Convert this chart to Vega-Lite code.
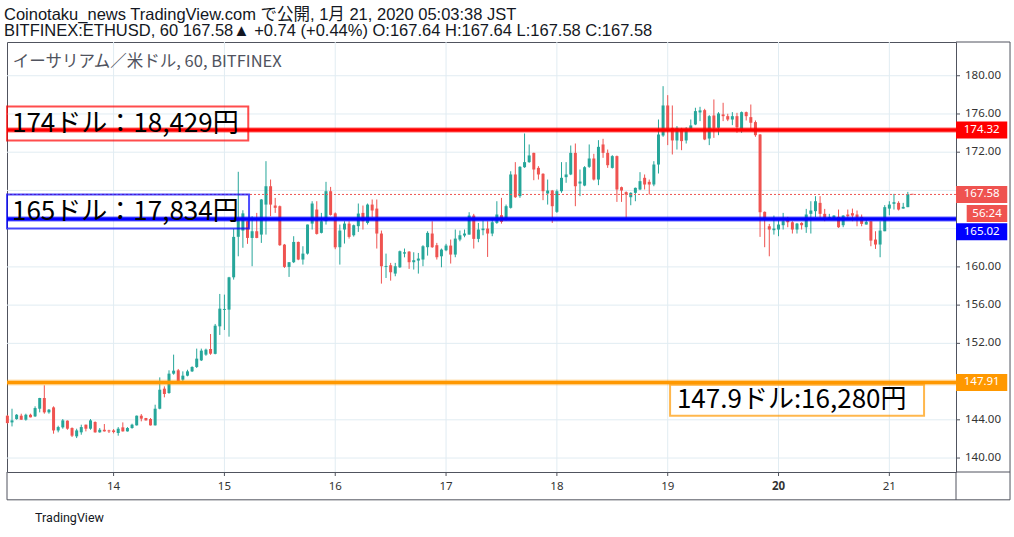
{
  "$schema": "https://vega.github.io/schema/vega-lite/v6.json",
  "description": "BITFINEX ETHUSD hourly candles, Jan 13-21 2020, with three support/resistance levels.",
  "width": 949,
  "height": 430,
  "autosize": {"type": "none"},
  "padding": {"left": 7, "top": 42, "right": 58, "bottom": 65},
  "background": "#ffffff",
  "config": {
    "view": {"stroke": "#50535e", "strokeWidth": 1}
  },
  "title": {
    "text": "Coinotaku_news TradingView.com で公開, 1月 21, 2020 05:03:38 JST",
    "subtitle": "BITFINEX:ETHUSD, 60 167.58▲ +0.74 (+0.44%) O:167.64 H:167.64 L:167.58 C:167.58",
    "anchor": "start",
    "offset": 2,
    "font": "Liberation Sans, Noto Sans CJK JP",
    "fontSize": 16.5,
    "fontWeight": "normal",
    "color": "#131722",
    "subtitleFont": "Liberation Sans, Noto Sans CJK JP",
    "subtitleFontSize": 16.5,
    "subtitleColor": "#131722",
    "subtitlePadding": 0
  },
  "datasets": {
    "candles": [
      {"t": "2020-01-13T01:00Z", "o": 144.43, "h": 144.5, "l": 143.6, "c": 143.66},
      {"t": "2020-01-13T02:00Z", "o": 143.73, "h": 145.16, "l": 143.31, "c": 143.94},
      {"t": "2020-01-13T03:00Z", "o": 144.08, "h": 144.6, "l": 144.01, "c": 144.53},
      {"t": "2020-01-13T04:00Z", "o": 144.43, "h": 144.64, "l": 144.0, "c": 144.01},
      {"t": "2020-01-13T05:00Z", "o": 144.01, "h": 144.64, "l": 143.91, "c": 144.53},
      {"t": "2020-01-13T06:00Z", "o": 144.53, "h": 144.64, "l": 144.25, "c": 144.26},
      {"t": "2020-01-13T07:00Z", "o": 144.36, "h": 145.41, "l": 144.29, "c": 145.23},
      {"t": "2020-01-13T08:00Z", "o": 145.16, "h": 146.3, "l": 144.78, "c": 146.28},
      {"t": "2020-01-13T09:00Z", "o": 146.28, "h": 147.61, "l": 144.64, "c": 144.78},
      {"t": "2020-01-13T10:00Z", "o": 144.78, "h": 145.13, "l": 144.64, "c": 145.06},
      {"t": "2020-01-13T11:00Z", "o": 145.3, "h": 145.41, "l": 142.55, "c": 142.89},
      {"t": "2020-01-13T12:00Z", "o": 142.89, "h": 143.38, "l": 142.69, "c": 143.24},
      {"t": "2020-01-13T13:00Z", "o": 143.21, "h": 144.08, "l": 143.07, "c": 143.94},
      {"t": "2020-01-13T14:00Z", "o": 143.91, "h": 143.94, "l": 142.96, "c": 143.07},
      {"t": "2020-01-13T15:00Z", "o": 143.14, "h": 143.21, "l": 142.2, "c": 142.34},
      {"t": "2020-01-13T16:00Z", "o": 142.27, "h": 143.07, "l": 142.09, "c": 142.89},
      {"t": "2020-01-13T17:00Z", "o": 142.69, "h": 143.49, "l": 142.44, "c": 143.24},
      {"t": "2020-01-13T18:00Z", "o": 143.49, "h": 143.5, "l": 142.79, "c": 143.07},
      {"t": "2020-01-13T19:00Z", "o": 143.07, "h": 144.08, "l": 142.96, "c": 143.94},
      {"t": "2020-01-13T20:00Z", "o": 143.77, "h": 143.84, "l": 142.65, "c": 142.69},
      {"t": "2020-01-13T21:00Z", "o": 142.69, "h": 143.14, "l": 142.65, "c": 142.96},
      {"t": "2020-01-13T22:00Z", "o": 142.96, "h": 143.56, "l": 142.77, "c": 142.79},
      {"t": "2020-01-13T23:00Z", "o": 142.89, "h": 142.96, "l": 142.62, "c": 142.79},
      {"t": "2020-01-14T00:00Z", "o": 142.89, "h": 143.03, "l": 142.58, "c": 142.72},
      {"t": "2020-01-14T01:00Z", "o": 142.62, "h": 143.24, "l": 142.34, "c": 143.07},
      {"t": "2020-01-14T02:00Z", "o": 143.21, "h": 143.73, "l": 142.77, "c": 142.79},
      {"t": "2020-01-14T03:00Z", "o": 142.79, "h": 143.24, "l": 142.77, "c": 143.14},
      {"t": "2020-01-14T04:00Z", "o": 143.14, "h": 143.59, "l": 143.07, "c": 143.49},
      {"t": "2020-01-14T05:00Z", "o": 143.42, "h": 144.45, "l": 143.4, "c": 144.43},
      {"t": "2020-01-14T06:00Z", "o": 144.43, "h": 144.6, "l": 143.84, "c": 144.12},
      {"t": "2020-01-14T07:00Z", "o": 144.19, "h": 144.2, "l": 143.92, "c": 143.94},
      {"t": "2020-01-14T08:00Z", "o": 144.08, "h": 144.19, "l": 143.4, "c": 143.42},
      {"t": "2020-01-14T09:00Z", "o": 143.42, "h": 145.58, "l": 143.4, "c": 145.16},
      {"t": "2020-01-14T10:00Z", "o": 145.16, "h": 148.44, "l": 145.1, "c": 147.15},
      {"t": "2020-01-14T11:00Z", "o": 147.26, "h": 147.5, "l": 146.35, "c": 146.7},
      {"t": "2020-01-14T12:00Z", "o": 146.8, "h": 149.18, "l": 146.73, "c": 148.83},
      {"t": "2020-01-14T13:00Z", "o": 148.83, "h": 150.82, "l": 148.72, "c": 149.14},
      {"t": "2020-01-14T14:00Z", "o": 149.18, "h": 149.32, "l": 147.92, "c": 148.03},
      {"t": "2020-01-14T15:00Z", "o": 148.2, "h": 149.07, "l": 147.85, "c": 148.62},
      {"t": "2020-01-14T16:00Z", "o": 148.62, "h": 149.24, "l": 148.55, "c": 149.07},
      {"t": "2020-01-14T17:00Z", "o": 149.07, "h": 149.6, "l": 149.0, "c": 149.53},
      {"t": "2020-01-14T18:00Z", "o": 149.53, "h": 151.45, "l": 149.42, "c": 150.4},
      {"t": "2020-01-14T19:00Z", "o": 150.22, "h": 151.45, "l": 150.15, "c": 151.24},
      {"t": "2020-01-14T20:00Z", "o": 150.82, "h": 151.45, "l": 150.7, "c": 151.34},
      {"t": "2020-01-14T21:00Z", "o": 151.41, "h": 152.98, "l": 150.8, "c": 150.92},
      {"t": "2020-01-14T22:00Z", "o": 150.9, "h": 154.03, "l": 150.85, "c": 153.85},
      {"t": "2020-01-14T23:00Z", "o": 153.78, "h": 157.17, "l": 152.88, "c": 155.63},
      {"t": "2020-01-15T00:00Z", "o": 155.5, "h": 157.1, "l": 153.4, "c": 155.6},
      {"t": "2020-01-15T01:00Z", "o": 155.53, "h": 158.96, "l": 152.7, "c": 158.91},
      {"t": "2020-01-15T02:00Z", "o": 158.91, "h": 163.98, "l": 158.67, "c": 163.14},
      {"t": "2020-01-15T03:00Z", "o": 163.15, "h": 169.95, "l": 161.11, "c": 165.1},
      {"t": "2020-01-15T04:00Z", "o": 163.8, "h": 165.93, "l": 162.0, "c": 165.6},
      {"t": "2020-01-15T05:00Z", "o": 164.78, "h": 164.85, "l": 162.41, "c": 163.03},
      {"t": "2020-01-15T06:00Z", "o": 163.03, "h": 165.3, "l": 160.07, "c": 163.73},
      {"t": "2020-01-15T07:00Z", "o": 163.73, "h": 165.65, "l": 163.0, "c": 163.03},
      {"t": "2020-01-15T08:00Z", "o": 163.38, "h": 167.1, "l": 162.51, "c": 167.05},
      {"t": "2020-01-15T09:00Z", "o": 166.52, "h": 171.06, "l": 163.38, "c": 168.44},
      {"t": "2020-01-15T10:00Z", "o": 168.44, "h": 169.14, "l": 165.3, "c": 166.52},
      {"t": "2020-01-15T11:00Z", "o": 166.42, "h": 167.22, "l": 165.65, "c": 166.18},
      {"t": "2020-01-15T12:00Z", "o": 166.35, "h": 166.42, "l": 162.2, "c": 162.27},
      {"t": "2020-01-15T13:00Z", "o": 162.33, "h": 162.4, "l": 159.89, "c": 160.0},
      {"t": "2020-01-15T14:00Z", "o": 160.0, "h": 160.49, "l": 158.95, "c": 160.49},
      {"t": "2020-01-15T15:00Z", "o": 160.49, "h": 163.21, "l": 160.4, "c": 162.61},
      {"t": "2020-01-15T16:00Z", "o": 162.61, "h": 162.65, "l": 160.7, "c": 160.77},
      {"t": "2020-01-15T17:00Z", "o": 160.77, "h": 162.16, "l": 160.24, "c": 161.39},
      {"t": "2020-01-15T18:00Z", "o": 161.39, "h": 164.43, "l": 161.29, "c": 164.43},
      {"t": "2020-01-15T19:00Z", "o": 164.53, "h": 166.87, "l": 163.91, "c": 166.63},
      {"t": "2020-01-15T20:00Z", "o": 166.0, "h": 166.87, "l": 163.38, "c": 163.45},
      {"t": "2020-01-15T21:00Z", "o": 163.56, "h": 165.65, "l": 163.5, "c": 164.78},
      {"t": "2020-01-15T22:00Z", "o": 164.78, "h": 168.9, "l": 164.43, "c": 167.92},
      {"t": "2020-01-15T23:00Z", "o": 167.92, "h": 168.37, "l": 165.37, "c": 165.44},
      {"t": "2020-01-16T00:00Z", "o": 165.6, "h": 165.7, "l": 161.85, "c": 162.05},
      {"t": "2020-01-16T01:00Z", "o": 162.06, "h": 164.43, "l": 160.24, "c": 163.8},
      {"t": "2020-01-16T02:00Z", "o": 163.91, "h": 164.78, "l": 162.44, "c": 164.53},
      {"t": "2020-01-16T03:00Z", "o": 164.53, "h": 164.78, "l": 162.96, "c": 163.14},
      {"t": "2020-01-16T04:00Z", "o": 163.31, "h": 164.43, "l": 163.17, "c": 164.36},
      {"t": "2020-01-16T05:00Z", "o": 164.26, "h": 166.63, "l": 163.66, "c": 165.58},
      {"t": "2020-01-16T06:00Z", "o": 165.65, "h": 166.42, "l": 163.91, "c": 164.78},
      {"t": "2020-01-16T07:00Z", "o": 164.6, "h": 166.63, "l": 164.43, "c": 166.52},
      {"t": "2020-01-16T08:00Z", "o": 166.52, "h": 167.05, "l": 165.2, "c": 165.9},
      {"t": "2020-01-16T09:00Z", "o": 166.1, "h": 167.05, "l": 161.92, "c": 163.49},
      {"t": "2020-01-16T10:00Z", "o": 163.49, "h": 163.8, "l": 158.25, "c": 160.07},
      {"t": "2020-01-16T11:00Z", "o": 160.0, "h": 161.39, "l": 158.84, "c": 160.1},
      {"t": "2020-01-16T12:00Z", "o": 160.17, "h": 160.42, "l": 158.56, "c": 159.44},
      {"t": "2020-01-16T13:00Z", "o": 159.3, "h": 160.42, "l": 159.02, "c": 160.07},
      {"t": "2020-01-16T14:00Z", "o": 159.96, "h": 161.71, "l": 159.89, "c": 161.64},
      {"t": "2020-01-16T15:00Z", "o": 161.39, "h": 161.92, "l": 161.0, "c": 161.53},
      {"t": "2020-01-16T16:00Z", "o": 161.6, "h": 161.65, "l": 159.79, "c": 160.49},
      {"t": "2020-01-16T17:00Z", "o": 160.49, "h": 161.53, "l": 159.72, "c": 160.7},
      {"t": "2020-01-16T18:00Z", "o": 160.66, "h": 161.46, "l": 159.3, "c": 160.87},
      {"t": "2020-01-16T19:00Z", "o": 160.77, "h": 162.27, "l": 160.07, "c": 162.16},
      {"t": "2020-01-16T20:00Z", "o": 162.06, "h": 163.73, "l": 161.18, "c": 163.56},
      {"t": "2020-01-16T21:00Z", "o": 163.49, "h": 164.78, "l": 161.99, "c": 162.06},
      {"t": "2020-01-16T22:00Z", "o": 162.27, "h": 162.51, "l": 160.77, "c": 161.01},
      {"t": "2020-01-16T23:00Z", "o": 161.11, "h": 161.92, "l": 159.96, "c": 161.81},
      {"t": "2020-01-17T00:00Z", "o": 161.74, "h": 162.41, "l": 161.64, "c": 162.23},
      {"t": "2020-01-17T01:00Z", "o": 162.23, "h": 162.86, "l": 160.35, "c": 161.29},
      {"t": "2020-01-17T02:00Z", "o": 161.29, "h": 163.91, "l": 161.01, "c": 162.96},
      {"t": "2020-01-17T03:00Z", "o": 162.86, "h": 163.8, "l": 162.68, "c": 163.31},
      {"t": "2020-01-17T04:00Z", "o": 163.28, "h": 163.91, "l": 163.1, "c": 163.49},
      {"t": "2020-01-17T05:00Z", "o": 163.38, "h": 165.72, "l": 163.38, "c": 165.37},
      {"t": "2020-01-17T06:00Z", "o": 165.37, "h": 165.55, "l": 161.92, "c": 162.93},
      {"t": "2020-01-17T07:00Z", "o": 162.93, "h": 164.6, "l": 162.58, "c": 163.91},
      {"t": "2020-01-17T08:00Z", "o": 163.84, "h": 164.85, "l": 163.31, "c": 164.01},
      {"t": "2020-01-17T09:00Z", "o": 164.01, "h": 164.78, "l": 161.04, "c": 163.49},
      {"t": "2020-01-17T10:00Z", "o": 163.49, "h": 165.13, "l": 163.21, "c": 164.67},
      {"t": "2020-01-17T11:00Z", "o": 164.6, "h": 166.87, "l": 164.5, "c": 165.48},
      {"t": "2020-01-17T12:00Z", "o": 165.41, "h": 167.22, "l": 164.53, "c": 164.71},
      {"t": "2020-01-17T13:00Z", "o": 164.95, "h": 166.52, "l": 164.85, "c": 166.35},
      {"t": "2020-01-17T14:00Z", "o": 166.18, "h": 170.01, "l": 166.1, "c": 169.67},
      {"t": "2020-01-17T15:00Z", "o": 169.67, "h": 170.96, "l": 167.22, "c": 167.29},
      {"t": "2020-01-17T16:00Z", "o": 167.4, "h": 170.54, "l": 167.22, "c": 170.47},
      {"t": "2020-01-17T17:00Z", "o": 170.43, "h": 173.96, "l": 170.36, "c": 170.96},
      {"t": "2020-01-17T18:00Z", "o": 170.96, "h": 172.81, "l": 170.89, "c": 171.66},
      {"t": "2020-01-17T19:00Z", "o": 171.93, "h": 171.95, "l": 169.07, "c": 170.19},
      {"t": "2020-01-17T20:00Z", "o": 170.36, "h": 170.54, "l": 169.14, "c": 169.67},
      {"t": "2020-01-17T21:00Z", "o": 169.74, "h": 169.8, "l": 166.98, "c": 167.92},
      {"t": "2020-01-17T22:00Z", "o": 167.68, "h": 169.14, "l": 166.52, "c": 167.99},
      {"t": "2020-01-17T23:00Z", "o": 167.99, "h": 168.05, "l": 164.6, "c": 166.35},
      {"t": "2020-01-18T00:00Z", "o": 165.76, "h": 168.1, "l": 165.65, "c": 167.92},
      {"t": "2020-01-18T01:00Z", "o": 167.92, "h": 170.96, "l": 167.75, "c": 169.32},
      {"t": "2020-01-18T02:00Z", "o": 169.39, "h": 170.96, "l": 168.8, "c": 169.67},
      {"t": "2020-01-18T03:00Z", "o": 169.67, "h": 172.7, "l": 169.6, "c": 171.93},
      {"t": "2020-01-18T04:00Z", "o": 171.93, "h": 172.91, "l": 166.35, "c": 168.44},
      {"t": "2020-01-18T05:00Z", "o": 168.72, "h": 170.19, "l": 167.4, "c": 168.93},
      {"t": "2020-01-18T06:00Z", "o": 168.51, "h": 170.54, "l": 168.44, "c": 170.43},
      {"t": "2020-01-18T07:00Z", "o": 170.47, "h": 172.81, "l": 170.36, "c": 171.34},
      {"t": "2020-01-18T08:00Z", "o": 171.34, "h": 171.83, "l": 169.04, "c": 169.14},
      {"t": "2020-01-18T09:00Z", "o": 169.14, "h": 173.26, "l": 168.55, "c": 172.56},
      {"t": "2020-01-18T10:00Z", "o": 172.81, "h": 173.4, "l": 171.41, "c": 171.93},
      {"t": "2020-01-18T11:00Z", "o": 171.93, "h": 172.28, "l": 170.36, "c": 170.64},
      {"t": "2020-01-18T12:00Z", "o": 170.36, "h": 171.69, "l": 170.29, "c": 171.59},
      {"t": "2020-01-18T13:00Z", "o": 171.59, "h": 171.65, "l": 166.8, "c": 168.1},
      {"t": "2020-01-18T14:00Z", "o": 168.34, "h": 168.4, "l": 166.8, "c": 167.99},
      {"t": "2020-01-18T15:00Z", "o": 167.82, "h": 167.9, "l": 165.13, "c": 167.57},
      {"t": "2020-01-18T16:00Z", "o": 167.29, "h": 167.8, "l": 166.45, "c": 167.75},
      {"t": "2020-01-18T17:00Z", "o": 167.75, "h": 168.3, "l": 166.87, "c": 168.27},
      {"t": "2020-01-18T18:00Z", "o": 168.1, "h": 169.91, "l": 168.03, "c": 168.97},
      {"t": "2020-01-18T19:00Z", "o": 169.32, "h": 169.67, "l": 168.1, "c": 168.62},
      {"t": "2020-01-18T20:00Z", "o": 168.9, "h": 169.14, "l": 167.57, "c": 168.62},
      {"t": "2020-01-18T21:00Z", "o": 168.62, "h": 171.06, "l": 168.44, "c": 170.71},
      {"t": "2020-01-18T22:00Z", "o": 170.71, "h": 175.42, "l": 169.77, "c": 173.85},
      {"t": "2020-01-18T23:00Z", "o": 173.75, "h": 178.91, "l": 173.61, "c": 176.89},
      {"t": "2020-01-19T00:00Z", "o": 176.89, "h": 177.97, "l": 172.74, "c": 174.45},
      {"t": "2020-01-19T01:00Z", "o": 174.55, "h": 176.89, "l": 171.76, "c": 173.23},
      {"t": "2020-01-19T02:00Z", "o": 173.23, "h": 174.73, "l": 172.28, "c": 174.55},
      {"t": "2020-01-19T03:00Z", "o": 174.45, "h": 174.55, "l": 172.21, "c": 173.16},
      {"t": "2020-01-19T04:00Z", "o": 173.23, "h": 174.62, "l": 172.91, "c": 174.45},
      {"t": "2020-01-19T05:00Z", "o": 174.31, "h": 175.42, "l": 174.2, "c": 174.8},
      {"t": "2020-01-19T06:00Z", "o": 174.9, "h": 176.65, "l": 174.83, "c": 176.3},
      {"t": "2020-01-19T07:00Z", "o": 176.16, "h": 176.75, "l": 175.25, "c": 176.37},
      {"t": "2020-01-19T08:00Z", "o": 176.4, "h": 176.54, "l": 173.26, "c": 173.33},
      {"t": "2020-01-19T09:00Z", "o": 173.43, "h": 175.88, "l": 172.74, "c": 175.77},
      {"t": "2020-01-19T10:00Z", "o": 175.84, "h": 177.52, "l": 173.5, "c": 174.55},
      {"t": "2020-01-19T11:00Z", "o": 174.55, "h": 176.19, "l": 173.78, "c": 176.05},
      {"t": "2020-01-19T12:00Z", "o": 175.95, "h": 177.17, "l": 175.25, "c": 175.77},
      {"t": "2020-01-19T13:00Z", "o": 175.77, "h": 176.02, "l": 175.25, "c": 175.42},
      {"t": "2020-01-19T14:00Z", "o": 175.42, "h": 176.19, "l": 174.83, "c": 175.77},
      {"t": "2020-01-19T15:00Z", "o": 175.77, "h": 176.12, "l": 174.03, "c": 174.62},
      {"t": "2020-01-19T16:00Z", "o": 174.27, "h": 176.26, "l": 174.03, "c": 176.19},
      {"t": "2020-01-19T17:00Z", "o": 176.19, "h": 176.25, "l": 175.32, "c": 175.77},
      {"t": "2020-01-19T18:00Z", "o": 175.67, "h": 176.99, "l": 174.38, "c": 175.08},
      {"t": "2020-01-19T19:00Z", "o": 175.15, "h": 175.32, "l": 173.61, "c": 173.78},
      {"t": "2020-01-19T20:00Z", "o": 173.85, "h": 173.9, "l": 163.14, "c": 165.72},
      {"t": "2020-01-19T21:00Z", "o": 165.76, "h": 165.8, "l": 162.06, "c": 164.95},
      {"t": "2020-01-19T22:00Z", "o": 164.25, "h": 164.5, "l": 161.11, "c": 163.91},
      {"t": "2020-01-19T23:00Z", "o": 163.84, "h": 165.37, "l": 163.38, "c": 164.01},
      {"t": "2020-01-20T00:00Z", "o": 163.91, "h": 164.88, "l": 163.21, "c": 164.43},
      {"t": "2020-01-20T01:00Z", "o": 164.36, "h": 165.65, "l": 163.91, "c": 164.78},
      {"t": "2020-01-20T02:00Z", "o": 164.95, "h": 165.23, "l": 164.15, "c": 164.67},
      {"t": "2020-01-20T03:00Z", "o": 164.67, "h": 164.78, "l": 163.49, "c": 163.91},
      {"t": "2020-01-20T04:00Z", "o": 163.91, "h": 164.6, "l": 163.49, "c": 164.53},
      {"t": "2020-01-20T05:00Z", "o": 164.6, "h": 164.67, "l": 163.91, "c": 164.36},
      {"t": "2020-01-20T06:00Z", "o": 164.15, "h": 166.07, "l": 163.56, "c": 165.48},
      {"t": "2020-01-20T07:00Z", "o": 165.55, "h": 166.87, "l": 163.49, "c": 165.9},
      {"t": "2020-01-20T08:00Z", "o": 165.83, "h": 167.4, "l": 165.2, "c": 166.87},
      {"t": "2020-01-20T09:00Z", "o": 166.7, "h": 167.4, "l": 165.13, "c": 165.55},
      {"t": "2020-01-20T10:00Z", "o": 165.55, "h": 166.07, "l": 164.78, "c": 165.13},
      {"t": "2020-01-20T11:00Z", "o": 165.06, "h": 165.55, "l": 164.95, "c": 165.2},
      {"t": "2020-01-20T12:00Z", "o": 165.02, "h": 165.4, "l": 164.95, "c": 165.37},
      {"t": "2020-01-20T13:00Z", "o": 165.23, "h": 166.0, "l": 164.08, "c": 164.15},
      {"t": "2020-01-20T14:00Z", "o": 164.36, "h": 165.4, "l": 164.15, "c": 165.37},
      {"t": "2020-01-20T15:00Z", "o": 165.48, "h": 166.0, "l": 165.02, "c": 165.3},
      {"t": "2020-01-20T16:00Z", "o": 165.62, "h": 166.1, "l": 164.78, "c": 165.37},
      {"t": "2020-01-20T17:00Z", "o": 165.48, "h": 165.9, "l": 164.25, "c": 165.13},
      {"t": "2020-01-20T18:00Z", "o": 165.23, "h": 165.48, "l": 164.25, "c": 164.5},
      {"t": "2020-01-20T19:00Z", "o": 164.43, "h": 164.95, "l": 164.43, "c": 164.71},
      {"t": "2020-01-20T20:00Z", "o": 164.78, "h": 164.8, "l": 162.16, "c": 162.75},
      {"t": "2020-01-20T21:00Z", "o": 162.86, "h": 163.73, "l": 161.88, "c": 162.34},
      {"t": "2020-01-20T22:00Z", "o": 162.34, "h": 164.78, "l": 161.01, "c": 163.8},
      {"t": "2020-01-20T23:00Z", "o": 163.73, "h": 166.46, "l": 163.73, "c": 166.25},
      {"t": "2020-01-21T00:00Z", "o": 166.1, "h": 166.87, "l": 165.4, "c": 166.52},
      {"t": "2020-01-21T01:00Z", "o": 166.6, "h": 167.64, "l": 166.0, "c": 166.77},
      {"t": "2020-01-21T02:00Z", "o": 166.7, "h": 166.87, "l": 165.9, "c": 166.0},
      {"t": "2020-01-21T03:00Z", "o": 166.1, "h": 166.7, "l": 166.1, "c": 166.28},
      {"t": "2020-01-21T04:00Z", "o": 166.25, "h": 167.85, "l": 166.25, "c": 167.6},
      {"t": "2020-01-21T05:00Z", "o": 167.64, "h": 167.64, "l": 167.58, "c": 167.58}
    ],
    "yticks": [
      {"v": 140}, {"v": 144}, {"v": 148}, {"v": 152}, {"v": 156}, {"v": 160},
      {"v": 164}, {"v": 168}, {"v": 172}, {"v": 176}, {"v": 180}
    ],
    "xticks": [
      {"d": "2020-01-14T00:00Z", "label": "14"},
      {"d": "2020-01-15T00:00Z", "label": "15"},
      {"d": "2020-01-16T00:00Z", "label": "16"},
      {"d": "2020-01-17T00:00Z", "label": "17"},
      {"d": "2020-01-18T00:00Z", "label": "18"},
      {"d": "2020-01-19T00:00Z", "label": "19"},
      {"d": "2020-01-20T00:00Z", "label": "20"},
      {"d": "2020-01-21T00:00Z", "label": "21"}
    ],
    "pricetags": [
      {"label": "174.32", "price": 174.32, "slot": 174.32, "kind": "red"},
      {"label": "167.58", "price": 167.58, "slot": 167.58, "kind": "last"},
      {"label": "165.02", "price": 165.02, "slot": 163.67, "kind": "blue"},
      {"label": "147.91", "price": 147.91, "slot": 147.91, "kind": "orange"}
    ],
    "notes": [
      {"text": "174ドル：18,429円", "x1": "2020-01-13T00:55Z", "x2": "2020-01-15T05:10Z", "lo": 173.23, "hi": 176.79, "tx": "2020-01-13T02:00Z", "ty": 175.0, "kind": "red"},
      {"text": "165ドル：17,834円", "x1": "2020-01-13T00:55Z", "x2": "2020-01-15T05:20Z", "lo": 164.01, "hi": 167.57, "tx": "2020-01-13T02:00Z", "ty": 165.79, "kind": "blue"},
      {"text": "147.9ドル:16,280円", "x1": "2020-01-19T00:31Z", "x2": "2020-01-21T07:31Z", "lo": 144.43, "hi": 147.68, "tx": "2020-01-19T02:00Z", "ty": 146.1, "kind": "orange"}
    ]
  },
  "layer": [
    {
      "data": {"name": "yticks"},
      "mark": {"type": "rule", "color": "#e1ecf2", "strokeWidth": 1},
      "encoding": {
        "y": {"field": "v", "type": "quantitative", "scale": {"domain": [138.54, 183.53], "nice": false, "zero": false, "padding": 0}, "axis": null}
      }
    },
    {
      "data": {"name": "xticks"},
      "mark": {"type": "rule", "color": "#e1ecf2", "strokeWidth": 1},
      "encoding": {
        "x": {
          "field": "d",
          "type": "temporal",
          "scale": {
            "type": "utc",
            "padding": 0,
            "domain": [
              {"year": 2020, "month": 1, "date": 13, "hours": 0, "minutes": 55, "utc": true},
              {"year": 2020, "month": 1, "date": 21, "hours": 14, "minutes": 26, "utc": true}
            ]
          },
          "axis": null
        }
      }
    },
    {
      "data": {"name": "candles"},
      "mark": {"type": "rule", "strokeWidth": 1},
      "encoding": {
        "x": {"field": "t", "type": "temporal", "axis": null},
        "y": {"field": "l", "type": "quantitative", "axis": null},
        "y2": {"field": "h"},
        "color": {"condition": {"test": "datum.c >= datum.o", "value": "#26a69a"}, "value": "#ef5350"}
      }
    },
    {
      "data": {"name": "candles"},
      "mark": {"type": "bar", "size": 3},
      "encoding": {
        "x": {"field": "t", "type": "temporal", "axis": null},
        "y": {"field": "o", "type": "quantitative", "axis": null},
        "y2": {"field": "c"},
        "color": {"condition": {"test": "datum.c >= datum.o", "value": "#26a69a"}, "value": "#ef5350"}
      }
    },
    {
      "data": {"name": "pricetags"},
      "transform": [{"filter": "datum.kind === 'last'"}],
      "mark": {"type": "rule", "color": "#ef5350", "strokeWidth": 1, "strokeDash": [2, 2]},
      "encoding": {
        "y": {"field": "price", "type": "quantitative", "axis": null}
      }
    },
    {
      "data": {"name": "pricetags"},
      "transform": [{"filter": "datum.kind !== 'last'"}],
      "mark": {"type": "rule", "strokeWidth": 6, "opacity": 0.3},
      "encoding": {
        "y": {"field": "price", "type": "quantitative", "axis": null},
        "color": {"field": "kind", "type": "nominal", "scale": {"domain": ["red", "last", "blue", "orange"], "range": ["#ff0000", "#ef5350", "#0000ff", "#ff9800"]}, "legend": null}
      }
    },
    {
      "data": {"name": "pricetags"},
      "transform": [{"filter": "datum.kind !== 'last'"}],
      "mark": {"type": "rule", "strokeWidth": 3.5},
      "encoding": {
        "y": {"field": "price", "type": "quantitative", "axis": null},
        "color": {"field": "kind", "type": "nominal", "legend": null}
      }
    },
    {
      "data": {"name": "notes"},
      "mark": {"type": "rect", "filled": false, "strokeWidth": 2, "strokeOpacity": 0.7},
      "encoding": {
        "x": {"field": "x1", "type": "temporal", "axis": null},
        "x2": {"field": "x2"},
        "y": {"field": "lo", "type": "quantitative", "axis": null},
        "y2": {"field": "hi"},
        "color": {"field": "kind", "type": "nominal", "legend": null}
      }
    },
    {
      "data": {"name": "notes"},
      "mark": {"type": "text", "align": "left", "baseline": "middle", "font": "Noto Sans CJK JP", "fontSize": 26, "color": "#000000"},
      "encoding": {
        "x": {"field": "tx", "type": "temporal", "axis": null},
        "y": {"field": "ty", "type": "quantitative", "axis": null},
        "text": {"field": "text"}
      }
    },
    {
      "data": {"values": [{"text": "イーサリアム／米ドル, 60, BITFINEX"}]},
      "mark": {"type": "text", "align": "left", "baseline": "middle", "font": "Noto Sans CJK JP", "fontSize": 16.5, "color": "#50535e"},
      "encoding": {
        "x": {"datum": {"year": 2020, "month": 1, "date": 13, "hours": 2, "minutes": 10, "utc": true}, "type": "temporal", "axis": null},
        "y": {"datum": 181.46, "type": "quantitative", "axis": null},
        "text": {"field": "text"}
      }
    },
    {
      "data": {"name": "yticks"},
      "mark": {"type": "rule", "color": "#50535e", "strokeWidth": 1},
      "encoding": {
        "x": {"datum": {"year": 2020, "month": 1, "date": 21, "hours": 14, "minutes": 26, "utc": true}, "type": "temporal", "axis": null},
        "x2": {"datum": {"year": 2020, "month": 1, "date": 21, "hours": 15, "minutes": 18, "utc": true}},
        "y": {"field": "v", "type": "quantitative", "axis": null}
      }
    },
    {
      "data": {"name": "yticks"},
      "transform": [{"filter": "indexof([148, 164, 168], datum.v) < 0"}],
      "mark": {"type": "text", "align": "left", "baseline": "middle", "font": "Noto Sans", "fontSize": 11.5, "color": "#333333"},
      "encoding": {
        "x": {"datum": {"year": 2020, "month": 1, "date": 21, "hours": 16, "minutes": 23, "utc": true}, "type": "temporal", "axis": null},
        "y": {"field": "v", "type": "quantitative", "axis": null},
        "text": {"field": "v", "type": "quantitative", "format": ".2f"}
      }
    },
    {
      "data": {"name": "pricetags"},
      "mark": {"type": "rect", "yOffset": 8.5, "y2Offset": -8.5},
      "encoding": {
        "x": {"datum": {"year": 2020, "month": 1, "date": 21, "hours": 14, "minutes": 26, "utc": true}, "type": "temporal", "axis": null},
        "x2": {"datum": {"year": 2020, "month": 1, "date": 22, "hours": 1, "minutes": 32, "utc": true}},
        "y": {"field": "slot", "type": "quantitative", "axis": null},
        "y2": {"field": "slot"},
        "color": {"field": "kind", "type": "nominal", "legend": null}
      }
    },
    {
      "data": {"name": "pricetags"},
      "mark": {"type": "text", "align": "center", "baseline": "middle", "font": "Noto Sans", "fontSize": 11.5, "color": "#ffffff"},
      "encoding": {
        "x": {"datum": {"year": 2020, "month": 1, "date": 21, "hours": 20, "minutes": 0, "utc": true}, "type": "temporal", "axis": null},
        "y": {"field": "slot", "type": "quantitative", "axis": null},
        "text": {"field": "label"}
      }
    },
    {
      "data": {"values": [{"label": "56:24", "slot": 165.58}]},
      "mark": {"type": "rect", "color": "#ef5350", "yOffset": 8.5, "y2Offset": -8.5},
      "encoding": {
        "x": {"datum": {"year": 2020, "month": 1, "date": 21, "hours": 16, "minutes": 45, "utc": true}, "type": "temporal", "axis": null},
        "x2": {"datum": {"year": 2020, "month": 1, "date": 22, "hours": 1, "minutes": 32, "utc": true}},
        "y": {"field": "slot", "type": "quantitative", "axis": null},
        "y2": {"field": "slot"}
      }
    },
    {
      "data": {"values": [{"label": "56:24", "slot": 165.58}]},
      "mark": {"type": "text", "align": "center", "baseline": "middle", "font": "Noto Sans", "fontSize": 11.5, "color": "#ffffff"},
      "encoding": {
        "x": {"datum": {"year": 2020, "month": 1, "date": 21, "hours": 21, "minutes": 9, "utc": true}, "type": "temporal", "axis": null},
        "y": {"field": "slot", "type": "quantitative", "axis": null},
        "text": {"field": "label"}
      }
    },
    {
      "data": {"name": "xticks"},
      "mark": {"type": "rule", "color": "#50535e", "strokeWidth": 1},
      "encoding": {
        "x": {"field": "d", "type": "temporal", "axis": null},
        "y": {"datum": 138.54, "type": "quantitative", "axis": null},
        "y2": {"datum": 138.12}
      }
    },
    {
      "data": {"name": "xticks"},
      "transform": [{"filter": "datum.label !== '20'"}],
      "mark": {"type": "text", "align": "center", "baseline": "middle", "font": "Noto Sans", "fontSize": 11.5, "color": "#333333"},
      "encoding": {
        "x": {"field": "d", "type": "temporal", "axis": null},
        "y": {"datum": 137.0, "type": "quantitative", "axis": null},
        "text": {"field": "label"}
      }
    },
    {
      "data": {"name": "xticks"},
      "transform": [{"filter": "datum.label === '20'"}],
      "mark": {"type": "text", "align": "center", "baseline": "middle", "font": "Noto Sans", "fontSize": 11.5, "fontWeight": "bold", "color": "#333333"},
      "encoding": {
        "x": {"field": "d", "type": "temporal", "axis": null},
        "y": {"datum": 137.0, "type": "quantitative", "axis": null},
        "text": {"field": "label"}
      }
    },
    {
      "data": {"values": [{"text": "TradingView"}]},
      "mark": {"type": "text", "align": "left", "baseline": "middle", "font": "Roboto", "fontSize": 12.5, "color": "#131722"},
      "encoding": {
        "x": {"datum": {"year": 2020, "month": 1, "date": 13, "hours": 7, "minutes": 0, "utc": true}, "type": "temporal", "axis": null},
        "y": {"datum": 133.73, "type": "quantitative", "axis": null},
        "text": {"field": "text"}
      }
    },
    {
      "data": {"values": [{}]},
      "mark": {"type": "rule", "color": "#50535e", "strokeWidth": 1},
      "encoding": {
        "x": {"datum": {"year": 2020, "month": 1, "date": 13, "hours": 0, "minutes": 55, "utc": true}, "type": "temporal", "axis": null},
        "x2": {"datum": {"year": 2020, "month": 1, "date": 22, "hours": 2, "minutes": 8, "utc": true}},
        "y": {"datum": 135.63, "type": "quantitative", "axis": null}
      }
    },
    {
      "data": {"values": [{}]},
      "mark": {"type": "rule", "color": "#50535e", "strokeWidth": 1},
      "encoding": {
        "x": {"datum": {"year": 2020, "month": 1, "date": 21, "hours": 14, "minutes": 26, "utc": true}, "type": "temporal", "axis": null},
        "x2": {"datum": {"year": 2020, "month": 1, "date": 22, "hours": 2, "minutes": 8, "utc": true}},
        "y": {"datum": 183.53, "type": "quantitative", "axis": null}
      }
    },
    {
      "data": {"values": [{}]},
      "mark": {"type": "rule", "color": "#50535e", "strokeWidth": 1},
      "encoding": {
        "x": {"datum": {"year": 2020, "month": 1, "date": 21, "hours": 14, "minutes": 26, "utc": true}, "type": "temporal", "axis": null},
        "x2": {"datum": {"year": 2020, "month": 1, "date": 22, "hours": 2, "minutes": 8, "utc": true}},
        "y": {"datum": 138.54, "type": "quantitative", "axis": null}
      }
    },
    {
      "data": {"values": [{}]},
      "mark": {"type": "rule", "color": "#50535e", "strokeWidth": 1},
      "encoding": {
        "x": {"datum": {"year": 2020, "month": 1, "date": 22, "hours": 2, "minutes": 8, "utc": true}, "type": "temporal", "axis": null},
        "y": {"datum": 183.53, "type": "quantitative", "axis": null},
        "y2": {"datum": 135.63}
      }
    },
    {
      "data": {"values": [{}]},
      "mark": {"type": "rule", "color": "#50535e", "strokeWidth": 1},
      "encoding": {
        "x": {"datum": {"year": 2020, "month": 1, "date": 21, "hours": 14, "minutes": 26, "utc": true}, "type": "temporal", "axis": null},
        "y": {"datum": 138.54, "type": "quantitative", "axis": null},
        "y2": {"datum": 135.63}
      }
    },
    {
      "data": {"values": [{}]},
      "mark": {"type": "rule", "color": "#50535e", "strokeWidth": 1},
      "encoding": {
        "x": {"datum": {"year": 2020, "month": 1, "date": 13, "hours": 0, "minutes": 55, "utc": true}, "type": "temporal", "axis": null},
        "y": {"datum": 138.54, "type": "quantitative", "axis": null},
        "y2": {"datum": 135.63}
      }
    }
  ]
}
